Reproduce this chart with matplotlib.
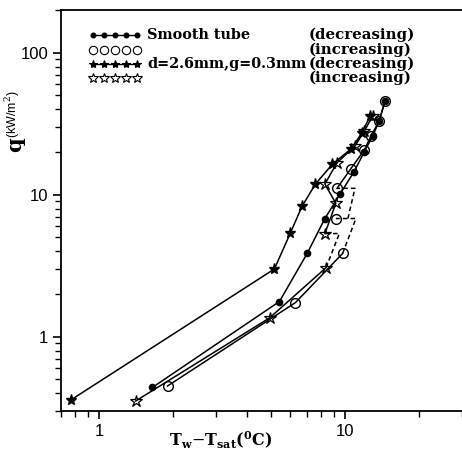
import matplotlib.pyplot as plt
from matplotlib.ticker import LogLocator, FixedLocator, NullFormatter, FixedFormatter

# smooth tube, decreasing heat flux (filled dots)
smooth_dec_x = [1.65, 5.42, 7.03, 8.3, 9.6, 10.9, 12.0, 13.0, 13.8, 14.6]
smooth_dec_y = [0.44, 1.77, 3.86, 6.8, 10.2, 14.5, 20.0, 26.0, 33.0, 46.0]

# smooth tube, increasing heat flux (open circles)
smooth_inc_x = [1.90, 6.3, 9.8, 9.2, 9.3, 10.6, 12.0, 12.8, 13.8, 14.6]
smooth_inc_y = [0.45, 1.74, 3.86, 6.8, 11.1, 15.3, 20.6, 26.0, 33.0, 46.0]
# temperature overshoot paths (dashed)
circ_jump1_x = [9.8, 11.1, 9.2]
circ_jump1_y = [3.86, 6.8, 6.8]
circ_jump2_x = [10.3, 11.0, 9.3]
circ_jump2_y = [6.8, 11.1, 11.1]

# d=2.6mm, g=0.3mm, decreasing (filled stars)
grv_dec_x = [0.77, 5.17, 6.0, 6.7, 7.6, 8.9, 10.6, 11.7, 12.7]
grv_dec_y = [0.36, 3.0, 5.35, 8.3, 11.9, 16.4, 21.0, 27.0, 36.0]

# d=2.6mm, g=0.3mm, increasing (open stars)
grv_inc_x = [1.41, 4.95, 8.4, 8.3, 9.2, 8.3, 9.3, 11.0, 12.0, 13.0]
grv_inc_y = [0.353, 1.36, 3.07, 5.33, 8.7, 11.9, 16.8, 22.0, 28.0, 36.0]
star_jump_x = [8.4, 9.5, 8.3]
star_jump_y = [3.07, 5.33, 5.33]

legend_names = ['Smooth tube', '', 'd=2.6mm,g=0.3mm', '']
legend_modes = ['(decreasing)', '(increasing)', '(decreasing)', '(increasing)']

plt.rcParams['mathtext.fontset'] = 'dejavuserif'

fig = plt.figure(figsize=(4.62, 4.53), dpi=100)
ax = fig.add_axes([61/462, 1 - 411/453, 401/462, 401/453])

lw = 1.1
ax.plot(smooth_dec_x, smooth_dec_y, '-', color='k', lw=lw, marker='o', ms=4.5)
# solid parts of the increasing curve, overshoot drawn dashed
ax.plot(smooth_inc_x[:3], smooth_inc_y[:3], '-', color='k', lw=lw)
ax.plot(smooth_inc_x[4:], smooth_inc_y[4:], '-', color='k', lw=lw)
ax.plot(circ_jump1_x, circ_jump1_y, '--', color='k', lw=lw, dashes=(3, 2))
ax.plot(circ_jump2_x, circ_jump2_y, '--', color='k', lw=lw, dashes=(3, 2))
ax.plot(smooth_inc_x, smooth_inc_y, 'o', mfc='none', mec='k', mew=1.0, ms=7)

ax.plot(grv_dec_x, grv_dec_y, '-', color='k', lw=lw, marker='*', ms=8)
ax.plot(grv_inc_x[:3], grv_inc_y[:3], '-', color='k', lw=lw)
ax.plot(grv_inc_x[3:], grv_inc_y[3:], '-', color='k', lw=lw)
ax.plot(star_jump_x, star_jump_y, '--', color='k', lw=lw, dashes=(3, 2))
ax.plot(grv_inc_x, grv_inc_y, '*', mfc='none', mec='k', mew=0.9, ms=9)

ax.set_xscale('log')
ax.set_yscale('log')
ax.set_xlim(0.7, 30)
ax.set_ylim(0.3, 200)

ax.spines['right'].set_visible(False)
for s in ['left', 'bottom', 'top']:
    ax.spines[s].set_linewidth(1.3)

ax.xaxis.set_major_locator(FixedLocator([1, 10]))
ax.xaxis.set_major_formatter(FixedFormatter(['1', '10']))
ax.xaxis.set_minor_locator(LogLocator(base=10, subs=range(2, 10)))
ax.xaxis.set_minor_formatter(NullFormatter())
ax.yaxis.set_major_locator(FixedLocator([1, 10, 100]))
ax.yaxis.set_major_formatter(FixedFormatter(['1', '10', '100']))
ax.yaxis.set_minor_locator(LogLocator(base=10, subs=range(2, 10)))
ax.yaxis.set_minor_formatter(NullFormatter())
ax.tick_params(which='major', direction='out', length=6, width=1.2, labelsize=12, pad=3)
ax.tick_params(which='minor', direction='out', length=4, width=1.0)
for lab in ax.get_xticklabels() + ax.get_yticklabels():
    lab.set_fontfamily('Liberation Sans')

# hand-made legend
mk = [('o', 'k', 3.5, '-'), ('o', 'none', 6, 'none'), ('*', 'k', 6, '-'), ('*', 'none', 7, 'none')]
row_y = [35, 50, 64, 78]
for i in range(4):
    yy = 1 - (row_y[i] - 10) / 401
    xs = [(93 - 61 + k * 11) / 401 for k in range(5)]
    m, fc, s, ls = mk[i]
    ax.plot(xs, [yy] * 5, linestyle=ls, color='k', lw=1.0, marker=m, mfc=fc, mec='k',
            ms=s, mew=0.8, transform=ax.transAxes, clip_on=False)
    ax.text((147 - 61) / 401, yy, legend_names[i], transform=ax.transAxes,
            fontfamily='DejaVu Serif', fontweight='bold', fontsize=10.4, va='center', ha='left')
    ax.text((309 - 61) / 401, yy, legend_modes[i], transform=ax.transAxes,
            fontfamily='DejaVu Serif', fontweight='bold', fontsize=10.8, va='center', ha='left')

# axis titles
fig.text(221 / 462, 1 - 440 / 453, r'T$_\mathbf{w}$$-$T$_\mathbf{sat}$($^\mathbf{0}$C)',
         fontfamily='DejaVu Serif', fontweight='bold', fontsize=11.5, ha='center', va='center')
fig.text(15 / 462, 1 - 145 / 453, 'q', rotation=90, fontfamily='DejaVu Serif',
         fontweight='bold', fontsize=15, ha='center', va='center')
fig.text(13 / 462, 1 - 114 / 453, r'(kW/m$^2$)', rotation=90, fontfamily='Liberation Sans',
         fontsize=9, ha='center', va='center')

fig.savefig('out.png', dpi=100)
